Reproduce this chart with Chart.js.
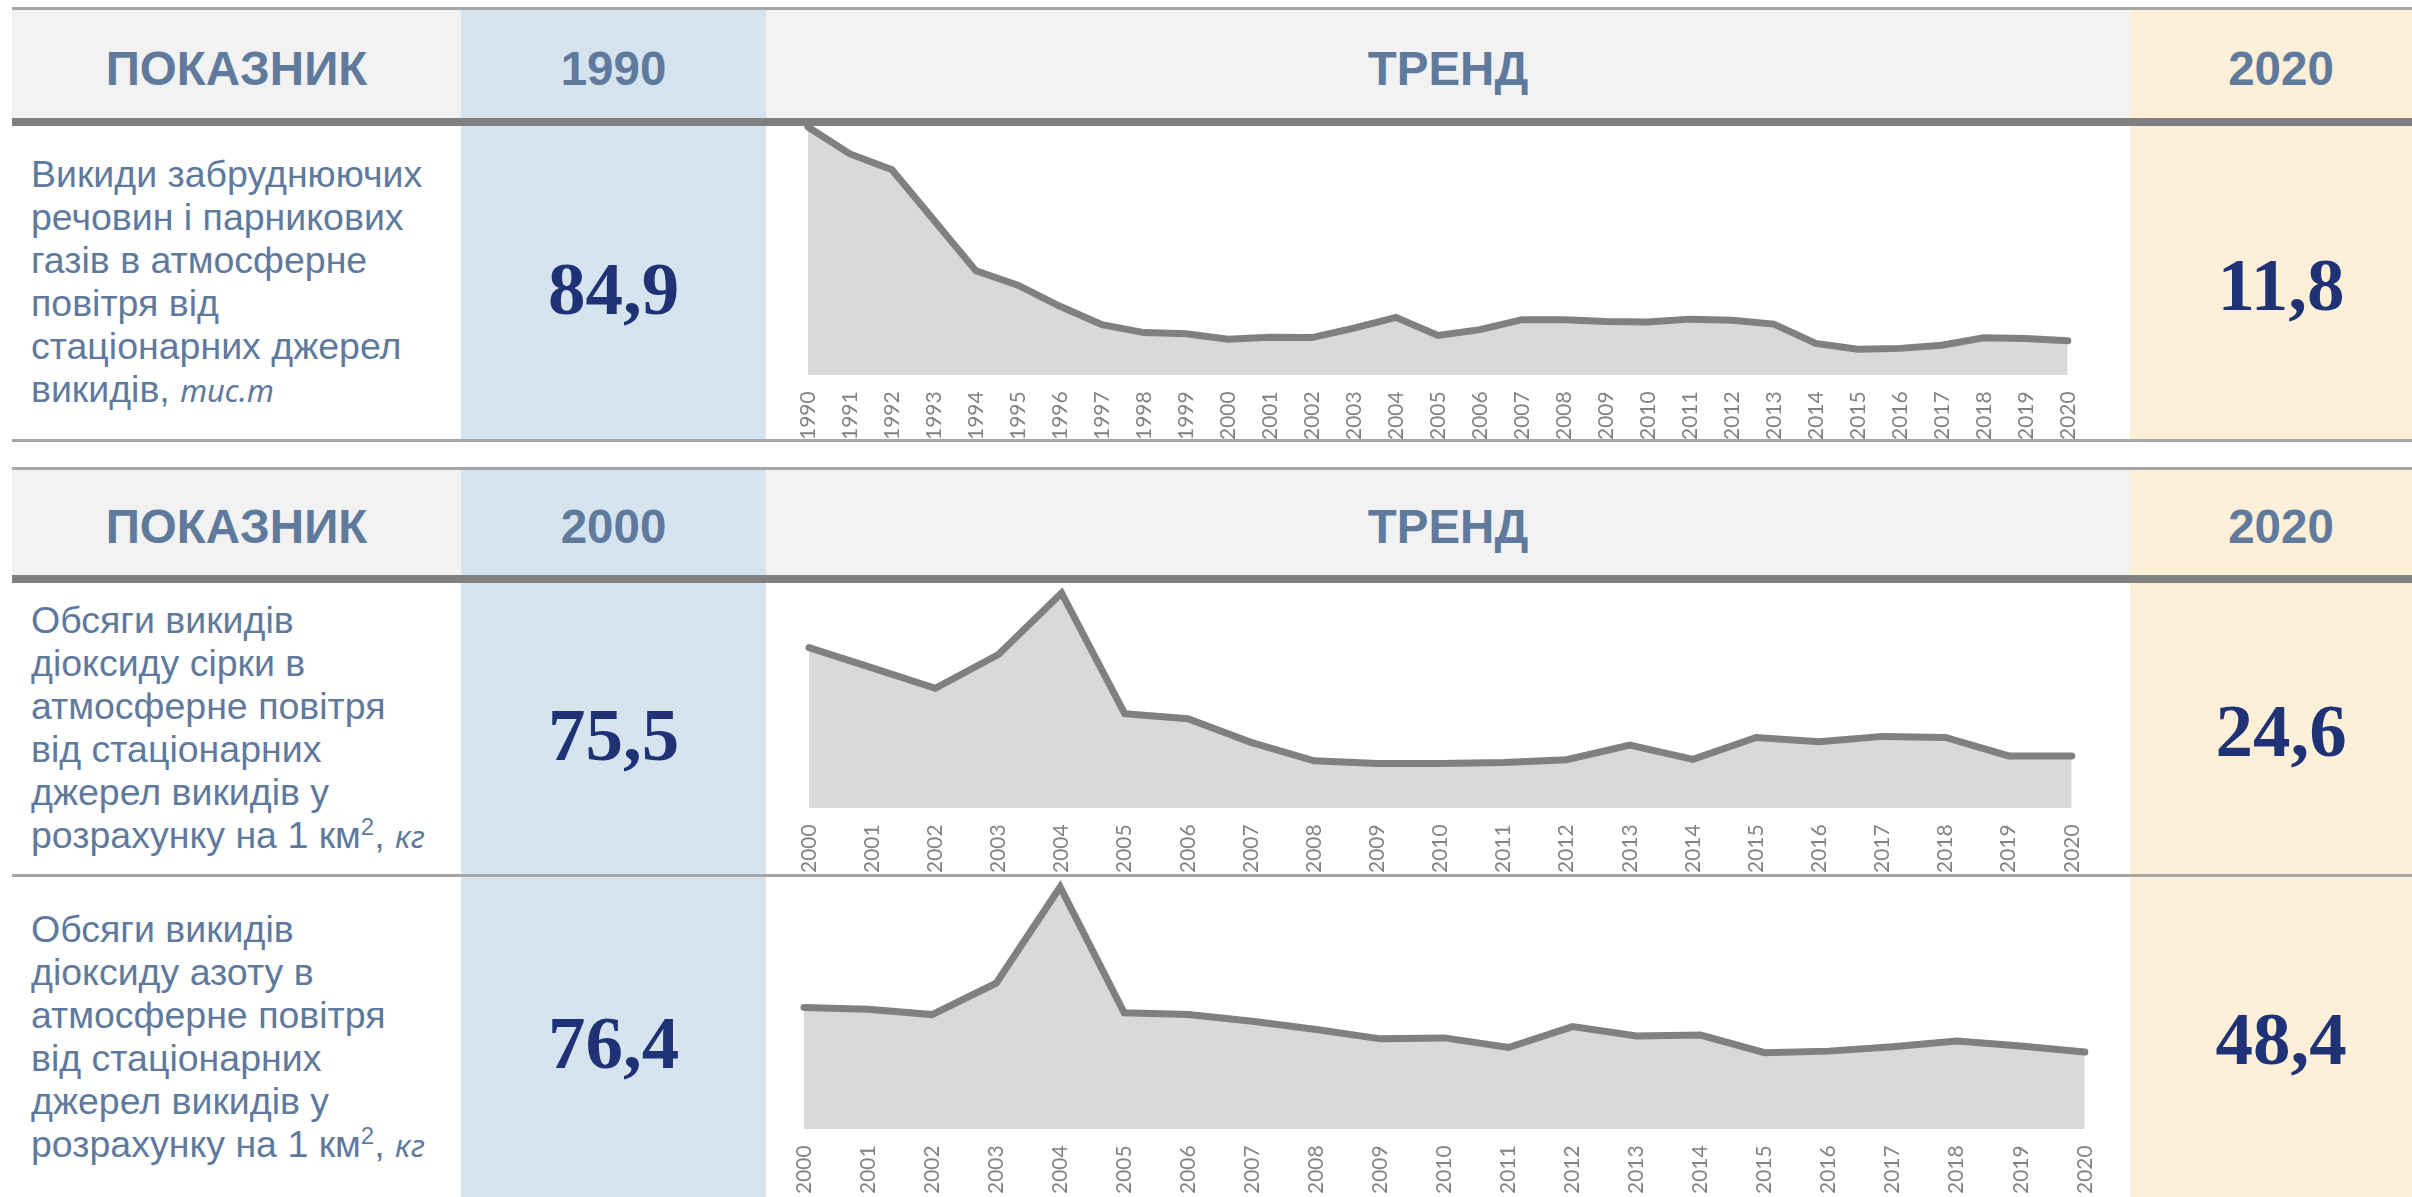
<!DOCTYPE html>
<html lang="uk">
<head>
<meta charset="utf-8">
<script src="https://cdn.jsdelivr.net/npm/chart.js@4.4.0/dist/chart.umd.min.js"></script>
<style>
  body { margin: 0; width: 2412px; height: 1197px; background: #fff; position: relative; overflow: hidden; }
  .box { position: absolute; }
  .hdr { position: absolute; display: flex; align-items: center; justify-content: center;
         font-family: "Liberation Sans", Arial, sans-serif; font-weight: bold; font-size: 47.5px; color: #5f7a9d; }
  .desc { position: absolute; left: 31px; width: 430px; display: flex; flex-direction: column; justify-content: center;
          font-family: "Liberation Sans", Arial, sans-serif; font-size: 37.5px; line-height: 43px; color: #5f7a9d; }
  .desc i { font-family: "Noto Sans", sans-serif; font-style: italic; font-size: 31px; }
  .desc sup { font-size: 24px; line-height: 0; }
  .num { position: absolute; display: flex; align-items: center; justify-content: center;
         font-family: "Liberation Serif", "Times New Roman", serif; font-weight: bold; font-size: 75px; color: #1f3275; }
  canvas { position: absolute; }
</style>
</head>
<body>
<!-- section 1 -->
<div class="box" style="left:12px;top:10px;width:2400px;height:108px;background:#f2f2f2"></div>
<div class="box" style="left:461px;top:10px;width:305px;height:430px;background:#d6e4f0"></div>
<div class="box" style="left:2130px;top:10px;width:282px;height:430px;background:#fdefd8"></div>
<div class="box" style="left:12px;top:7px;width:2400px;height:3px;background:#a6a6a6"></div>
<div class="box" style="left:12px;top:118px;width:2400px;height:8px;background:#808080"></div>
<div class="box" style="left:12px;top:439px;width:2400px;height:3px;background:#a6a6a6"></div>

<!-- section 2 -->
<div class="box" style="left:12px;top:470px;width:2400px;height:105px;background:#f2f2f2"></div>
<div class="box" style="left:461px;top:470px;width:305px;height:727px;background:#d6e4f0"></div>
<div class="box" style="left:2130px;top:470px;width:282px;height:727px;background:#fdefd8"></div>
<div class="box" style="left:12px;top:467px;width:2400px;height:3px;background:#a6a6a6"></div>
<div class="box" style="left:12px;top:575px;width:2400px;height:8px;background:#808080"></div>
<div class="box" style="left:12px;top:874px;width:2400px;height:3px;background:#a6a6a6"></div>

<div id="headers"></div>
<div id="rows"></div>

<canvas id="c1" width="1341" height="356" style="left:768px;top:100px"></canvas>
<canvas id="c2" width="1344" height="323" style="left:769px;top:566px"></canvas>
<canvas id="c3" width="1362" height="350" style="left:764px;top:860px"></canvas>

<script>
const headerTitles = ["ПОКАЗНИК", "ТРЕНД"];
const baseYears = ["1990", "2000"];
const endYears = ["2020", "2020"];

const startValues = ["84,9", "75,5", "76,4"];
const endValues = ["11,8", "24,6", "48,4"];

const descriptions = [
  "Викиди забруднюючих<br>речовин і парникових<br>газів в атмосферне<br>повітря від<br>стаціонарних джерел<br>викидів, <i>тис.т</i>",
  "Обсяги викидів<br>діоксиду сірки в<br>атмосферне повітря<br>від стаціонарних<br>джерел викидів у<br>розрахунку на 1 км<sup>2</sup>, <i>кг</i>",
  "Обсяги викидів<br>діоксиду азоту в<br>атмосферне повітря<br>від стаціонарних<br>джерел викидів у<br>розрахунку на 1 км<sup>2</sup>, <i>кг</i>"
];

const years1990 = ["1990","1991","1992","1993","1994","1995","1996","1997","1998","1999",
  "2000","2001","2002","2003","2004","2005","2006","2007","2008","2009",
  "2010","2011","2012","2013","2014","2015","2016","2017","2018","2019","2020"];
const years2000 = ["2000","2001","2002","2003","2004","2005","2006","2007","2008","2009",
  "2010","2011","2012","2013","2014","2015","2016","2017","2018","2019","2020"];

const pollutants = [84.9, 75.7, 70.3, 53.0, 35.7, 30.8, 23.6, 17.3, 14.6, 14.2,
  12.3, 13.0, 12.9, 16.1, 19.8, 13.6, 15.6, 19.0, 19.0, 18.4,
  18.2, 19.2, 18.8, 17.5, 10.9, 8.9, 9.2, 10.3, 12.8, 12.6, 11.8];
const sulfurDioxide = [75.5, 66.0, 56.4, 72.3, 101.2, 44.5, 42.1, 31.0, 22.3, 21.0,
  21.0, 21.5, 22.8, 29.7, 23.0, 33.3, 31.3, 33.8, 33.3, 24.6, 24.6];
const nitrogenDioxide = [76.4, 75.3, 71.9, 91.6, 151.9, 73.0, 71.9, 67.7, 62.6, 56.7,
  57.3, 51.3, 64.4, 58.5, 59.1, 48.0, 49.0, 51.8, 55.3, 52.2, 48.4];

// table layout
const headerBands = [[14, 122], [474, 579]];
const rowBands = [[126, 439], [583, 874], [877, 1197]];

let html = "";
headerBands.forEach(([t, b], i) => {
  const h = b - t;
  html += `<div class="hdr" style="left:12px;top:${t}px;width:449px;height:${h}px">${headerTitles[0]}</div>`;
  html += `<div class="hdr" style="left:461px;top:${t}px;width:305px;height:${h}px">${baseYears[i]}</div>`;
  html += `<div class="hdr" style="left:766px;top:${t}px;width:1364px;height:${h}px">${headerTitles[1]}</div>`;
  html += `<div class="hdr" style="left:2140px;top:${t}px;width:282px;height:${h}px">${endYears[i]}</div>`;
});
document.getElementById("headers").innerHTML = html;

html = "";
rowBands.forEach(([t, b], i) => {
  const h = b - t;
  html += `<div class="desc" style="top:${t}px;height:${h}px"><div>${descriptions[i]}</div></div>`;
  html += `<div class="num" style="left:461px;top:${t + 6}px;width:305px;height:${h}px">${startValues[i]}</div>`;
  html += `<div class="num" style="left:2140px;top:${t + 2}px;width:282px;height:${h}px">${endValues[i]}</div>`;
});
document.getElementById("rows").innerHTML = html;

const trendConfig = (labels, data) => ({
  type: "line",
  data: {
    labels: labels,
    datasets: [{
      data: data,
      borderColor: "#808080",
      borderWidth: 7,
      backgroundColor: "#d9d9d9",
      fill: "origin",
      pointRadius: 0,
      tension: 0,
      clip: false,
      borderCapStyle: "round",
    }],
  },
  options: {
    responsive: false,
    animation: false,
    layout: { padding: { top: 27, left: 40, right: 40, bottom: 0 } },
    plugins: { legend: { display: false }, tooltip: { enabled: false } },
    scales: {
      x: {
        offset: false,
        grid: { display: false, drawTicks: false },
        border: { display: false },
        ticks: {
          autoSkip: false,
          minRotation: 90,
          maxRotation: 90,
          padding: 16,
          color: "#828282",
          font: { family: "Lato", size: 21 },
        },
      },
      y: { display: false, min: 0, max: Math.max(...data) },
    },
  },
});

new Chart(document.getElementById("c1"), trendConfig(years1990, pollutants));
new Chart(document.getElementById("c2"), trendConfig(years2000, sulfurDioxide));
new Chart(document.getElementById("c3"), trendConfig(years2000, nitrogenDioxide));
</script>
</body>
</html>
